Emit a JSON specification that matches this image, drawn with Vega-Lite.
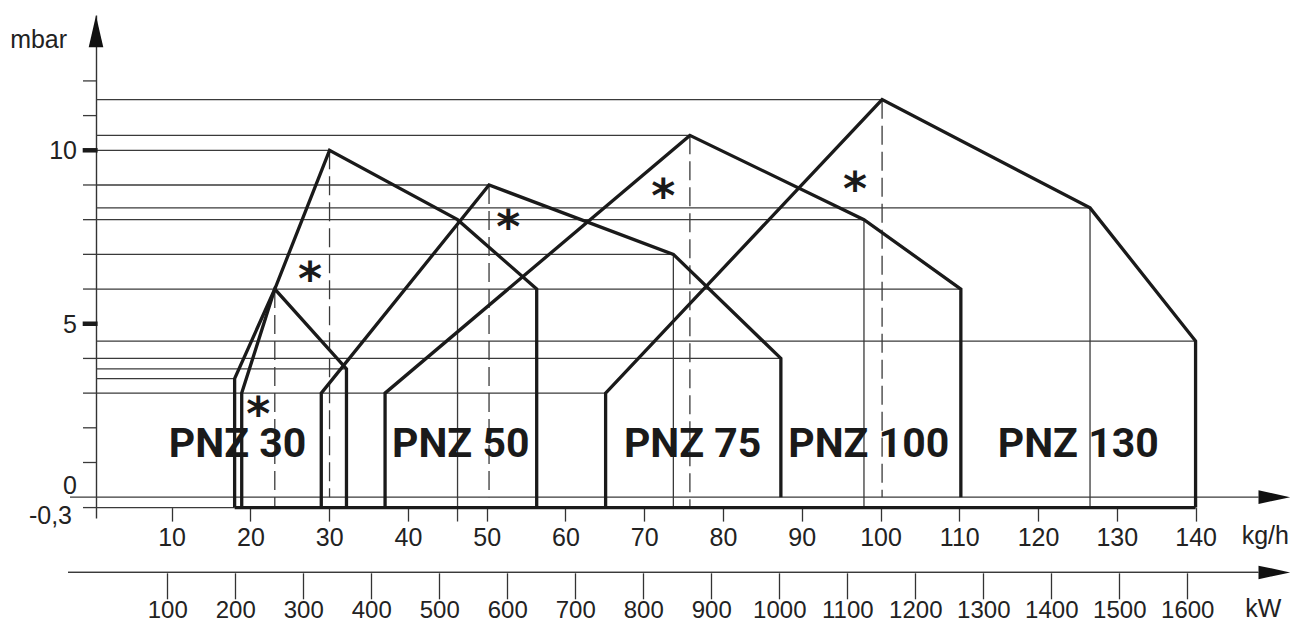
{
  "$schema": "https://vega.github.io/schema/vega-lite/v6.json",
  "width": 1194.1,
  "height": 503,
  "autosize": {"type": "none"},
  "padding": {"left": 96, "top": 15, "right": 8, "bottom": 105},
  "background": "white",
  "config": {"view": {"stroke": null}, "axis": {"grid": false}},
  "datasets": {
    "outlines": [
      {"id": "PNZ 30", "o": 1, "x": 18.9, "y": -0.3},
      {"id": "PNZ 30", "o": 2, "x": 18.9, "y": 3.0},
      {"id": "PNZ 30", "o": 3, "x": 23.1, "y": 6.0},
      {"id": "PNZ 30", "o": 4, "x": 32.2, "y": 3.7},
      {"id": "PNZ 30", "o": 5, "x": 32.2, "y": -0.3},
      {"id": "PNZ 50", "o": 1, "x": 18.0, "y": -0.3},
      {"id": "PNZ 50", "o": 2, "x": 18.0, "y": 3.42},
      {"id": "PNZ 50", "o": 3, "x": 23.1, "y": 6.0},
      {"id": "PNZ 50", "o": 4, "x": 30.05, "y": 10.0},
      {"id": "PNZ 50", "o": 5, "x": 46.3, "y": 8.0},
      {"id": "PNZ 50", "o": 6, "x": 56.35, "y": 6.0},
      {"id": "PNZ 50", "o": 7, "x": 56.35, "y": -0.3},
      {"id": "PNZ 75", "o": 1, "x": 29.0, "y": -0.3},
      {"id": "PNZ 75", "o": 2, "x": 29.0, "y": 3.0},
      {"id": "PNZ 75", "o": 3, "x": 50.3, "y": 9.0},
      {"id": "PNZ 75", "o": 4, "x": 73.7, "y": 7.0},
      {"id": "PNZ 75", "o": 5, "x": 87.35, "y": 4.0},
      {"id": "PNZ 75", "o": 6, "x": 87.35, "y": 0.0},
      {"id": "PNZ 100", "o": 1, "x": 37.1, "y": -0.3},
      {"id": "PNZ 100", "o": 2, "x": 37.1, "y": 3.0},
      {"id": "PNZ 100", "o": 3, "x": 75.8, "y": 10.43},
      {"id": "PNZ 100", "o": 4, "x": 97.9, "y": 8.0},
      {"id": "PNZ 100", "o": 5, "x": 110.2, "y": 6.0},
      {"id": "PNZ 100", "o": 6, "x": 110.2, "y": 0.0},
      {"id": "PNZ 130", "o": 1, "x": 65.1, "y": -0.3},
      {"id": "PNZ 130", "o": 2, "x": 65.1, "y": 3.0},
      {"id": "PNZ 130", "o": 3, "x": 100.2, "y": 11.46},
      {"id": "PNZ 130", "o": 4, "x": 126.6, "y": 8.34},
      {"id": "PNZ 130", "o": 5, "x": 140.0, "y": 4.5},
      {"id": "PNZ 130", "o": 6, "x": 140.0, "y": -0.3},
      {"id": "base", "o": 1, "x": 18.0, "y": -0.3},
      {"id": "base", "o": 2, "x": 140.0, "y": -0.3}
    ],
    "hlines": [
      {"x": 0.4, "x2": 100.2, "y": 11.46},
      {"x": 0.4, "x2": 75.8, "y": 10.43},
      {"x": 0.4, "x2": 30.05, "y": 10.0},
      {"x": 0.4, "x2": 50.3, "y": 9.0},
      {"x": 0.4, "x2": 126.6, "y": 8.34},
      {"x": 0.4, "x2": 97.9, "y": 8.0},
      {"x": 0.4, "x2": 73.7, "y": 7.0},
      {"x": 0.4, "x2": 110.2, "y": 6.0},
      {"x": 0.4, "x2": 140.0, "y": 4.5},
      {"x": 0.4, "x2": 87.35, "y": 4.0},
      {"x": 0.4, "x2": 32.2, "y": 3.7},
      {"x": 0.4, "x2": 18.0, "y": 3.42},
      {"x": 0.4, "x2": 65.1, "y": 3.0},
      {"x": -2.9, "x2": 148.0, "y": 0.0},
      {"x": 0.4, "x2": 18.0, "y": -0.3},
      {"x": -3.15, "x2": 148.0, "y": -2.17},
      {"x": -1.25, "x2": 0.4, "y": -0.3},
      {"x": -1.25, "x2": 0.4, "y": 1},
      {"x": -1.25, "x2": 0.4, "y": 2},
      {"x": -1.25, "x2": 0.4, "y": 3},
      {"x": -1.25, "x2": 0.4, "y": 4},
      {"x": -1.25, "x2": 0.4, "y": 6},
      {"x": -1.25, "x2": 0.4, "y": 7},
      {"x": -1.25, "x2": 0.4, "y": 8},
      {"x": -1.25, "x2": 0.4, "y": 9},
      {"x": -1.25, "x2": 0.4, "y": 11},
      {"x": -1.25, "x2": 0.4, "y": 12}
    ],
    "thickticks": [
      {"x": -1.29, "x2": 0.6, "y": 5},
      {"x": -1.29, "x2": 0.6, "y": 10}
    ],
    "vsolid": [
      {"x": 46.3, "y": 8.0, "y2": -0.7},
      {"x": 73.7, "y": 7.0, "y2": -0.3},
      {"x": 97.9, "y": 8.0, "y2": -0.3},
      {"x": 126.6, "y": 8.34, "y2": -0.3}
    ],
    "vdashed": [
      {"x": 23.1, "y": 6.0, "y2": -0.3},
      {"x": 30.05, "y": 10.0, "y2": 0.0},
      {"x": 50.3, "y": 9.0, "y2": 0.0},
      {"x": 75.8, "y": 10.43, "y2": -0.3},
      {"x": 100.2, "y": 11.46, "y2": 0.0}
    ],
    "arrows": [
      {"x": 150.0, "y": 0.0, "dir": "right"},
      {"x": 150.0, "y": -2.17, "dir": "right"},
      {"x": 0.4, "y": 13.43, "dir": "up"}
    ],
    "names": [
      {"x": 18.37, "y": 1.59, "name": "PNZ 30"},
      {"x": 46.7, "y": 1.59, "name": "PNZ 50"},
      {"x": 76.15, "y": 1.59, "name": "PNZ 75"},
      {"x": 98.5, "y": 1.59, "name": "PNZ 100"},
      {"x": 125.1, "y": 1.59, "name": "PNZ 130"}
    ],
    "stars": [
      {"x": 21.0, "y": 2.6, "t": "*"},
      {"x": 27.57, "y": 6.49, "t": "*"},
      {"x": 52.74, "y": 7.98, "t": "*"},
      {"x": 72.42, "y": 8.87, "t": "*"},
      {"x": 96.76, "y": 9.09, "t": "*"}
    ],
    "units": [
      {"x": -10.5, "y": 12.96, "t": "mbar"},
      {"x": 145.85, "y": -1.36, "t": "kg/h"},
      {"x": 146.3, "y": -3.45, "t": "kW"}
    ],
    "ylabels": [
      {"x": -2.01, "y": 10.0, "t": "10"},
      {"x": -2.01, "y": 5.0, "t": "5"},
      {"x": -2.01, "y": 0.343, "t": "0"},
      {"x": -2.65, "y": -0.52, "t": "-0,3"}
    ],
    "kwline": [
      {"kw": -46, "kw2": 1704, "y": -2.17}
    ]
  },
  "layer": [
    {
      "layer": [
        {
          "data": {"name": "hlines"},
          "mark": {"type": "rule", "color": "#3a3a3a", "strokeWidth": 1.3},
          "encoding": {
            "x": {"field": "x", "type": "quantitative", "title": null,
              "scale": {"domain": [0.4, 152], "nice": false, "zero": false},
              "axis": {"orient": "bottom", "offset": -10.4, "values": [10,20,30,40,50,60,70,80,90,100,110,120,130,140],
                "domain": false, "tickSize": 13.5, "tickWidth": 1.3, "tickColor": "#333",
                "labelFont": "Liberation Sans", "labelFontSize": 25, "labelColor": "#222",
                "labelPadding": 4, "labelFlush": false, "labelOverlap": false, "labelBound": false, "title": null}},
            "x2": {"field": "x2"},
            "y": {"field": "y", "type": "quantitative", "title": null,
              "scale": {"domain": [-0.6, 13.9], "nice": false, "zero": false},
              "axis": {"orient": "left", "values": [0, 5, 10],
                "domain": true, "domainColor": "#333", "domainWidth": 1.4,
                "ticks": false, "labels": false, "title": null}}
          }
        },
        {
          "data": {"name": "thickticks"},
          "mark": {"type": "rule", "color": "#1a1a1a", "strokeWidth": 4.5},
          "encoding": {
            "x": {"field": "x", "type": "quantitative", "title": null, "scale": {"domain": [0.4, 152], "nice": false, "zero": false}},
            "x2": {"field": "x2"},
            "y": {"field": "y", "type": "quantitative", "title": null, "scale": {"domain": [-0.6, 13.9], "nice": false, "zero": false}}
          }
        },
        {
          "data": {"name": "vsolid"},
          "mark": {"type": "rule", "color": "#3a3a3a", "strokeWidth": 1.3},
          "encoding": {
            "x": {"field": "x", "type": "quantitative", "title": null, "scale": {"domain": [0.4, 152], "nice": false, "zero": false}},
            "y": {"field": "y", "type": "quantitative", "title": null, "scale": {"domain": [-0.6, 13.9], "nice": false, "zero": false}},
            "y2": {"field": "y2"}
          }
        },
        {
          "data": {"name": "vdashed"},
          "mark": {"type": "rule", "color": "#3a3a3a", "strokeWidth": 1.3, "strokeDash": [19, 7]},
          "encoding": {
            "x": {"field": "x", "type": "quantitative", "title": null, "scale": {"domain": [0.4, 152], "nice": false, "zero": false}},
            "y": {"field": "y", "type": "quantitative", "title": null, "scale": {"domain": [-0.6, 13.9], "nice": false, "zero": false}},
            "y2": {"field": "y2"}
          }
        },
        {
          "data": {"name": "outlines"},
          "mark": {"type": "line", "color": "#1a1a1a", "strokeWidth": 3.3, "strokeJoin": "miter", "strokeCap": "butt"},
          "encoding": {
            "x": {"field": "x", "type": "quantitative", "title": null, "scale": {"domain": [0.4, 152], "nice": false, "zero": false}},
            "y": {"field": "y", "type": "quantitative", "title": null, "scale": {"domain": [-0.6, 13.9], "nice": false, "zero": false}},
            "detail": {"field": "id"},
            "order": {"field": "o"}
          }
        },
        {
          "data": {"name": "arrows"},
          "mark": {"type": "point", "filled": true, "color": "#111", "opacity": 1, "size": 1005},
          "encoding": {
            "x": {"field": "x", "type": "quantitative", "title": null, "scale": {"domain": [0.4, 152], "nice": false, "zero": false}},
            "y": {"field": "y", "type": "quantitative", "title": null, "scale": {"domain": [-0.6, 13.9], "nice": false, "zero": false}},
            "shape": {"field": "dir", "type": "nominal", "legend": null,
              "scale": {"domain": ["right", "up"], "range": ["M-1,-0.43L1,0L-1,0.43Z", "M-0.46,1L0,-1L0.46,1Z"]}}
          }
        },
        {
          "data": {"name": "names"},
          "mark": {"type": "text", "font": "Roboto", "fontWeight": "bold", "fontSize": 41, "align": "center", "baseline": "alphabetic", "dy": 14.6, "color": "#1a1a1a"},
          "encoding": {
            "x": {"field": "x", "type": "quantitative", "title": null, "scale": {"domain": [0.4, 152], "nice": false, "zero": false}},
            "y": {"field": "y", "type": "quantitative", "title": null, "scale": {"domain": [-0.6, 13.9], "nice": false, "zero": false}},
            "text": {"field": "name"}
          }
        },
        {
          "data": {"name": "stars"},
          "mark": {"type": "text", "font": "DejaVu Sans", "fontWeight": "bold", "fontSize": 46, "align": "center", "baseline": "alphabetic", "dy": 23, "color": "#1a1a1a"},
          "encoding": {
            "x": {"field": "x", "type": "quantitative", "title": null, "scale": {"domain": [0.4, 152], "nice": false, "zero": false}},
            "y": {"field": "y", "type": "quantitative", "title": null, "scale": {"domain": [-0.6, 13.9], "nice": false, "zero": false}},
            "text": {"field": "t"}
          }
        },
        {
          "data": {"name": "units"},
          "mark": {"type": "text", "font": "Liberation Sans", "fontSize": 25, "align": "left", "baseline": "alphabetic", "color": "#222"},
          "encoding": {
            "x": {"field": "x", "type": "quantitative", "title": null, "scale": {"domain": [0.4, 152], "nice": false, "zero": false}},
            "y": {"field": "y", "type": "quantitative", "title": null, "scale": {"domain": [-0.6, 13.9], "nice": false, "zero": false}},
            "text": {"field": "t"}
          }
        },
        {
          "data": {"name": "ylabels"},
          "mark": {"type": "text", "font": "Liberation Sans", "fontSize": 25, "align": "right", "baseline": "alphabetic", "dy": 9, "color": "#222"},
          "encoding": {
            "x": {"field": "x", "type": "quantitative", "title": null, "scale": {"domain": [0.4, 152], "nice": false, "zero": false}},
            "y": {"field": "y", "type": "quantitative", "title": null, "scale": {"domain": [-0.6, 13.9], "nice": false, "zero": false}},
            "text": {"field": "t"}
          }
        }
      ]
    },
    {
      "data": {"name": "kwline"},
      "mark": {"type": "rule", "color": "#3a3a3a", "strokeWidth": 1.3},
      "encoding": {
        "x": {"field": "kw", "type": "quantitative", "title": null,
          "scale": {"domain": [-4.85, 1751.2], "nice": false, "zero": false},
          "axis": {"orient": "bottom", "offset": 54.8, "values": [100,200,300,400,500,600,700,800,900,1000,1100,1200,1300,1400,1500,1600],
            "format": "d", "domain": false, "tickSize": 26, "tickWidth": 1.3, "tickColor": "#333",
            "labelFont": "Liberation Sans", "labelFontSize": 24, "labelColor": "#222",
            "labelPadding": 0, "labelFlush": false, "labelOverlap": false, "labelBound": false, "title": null}},
        "x2": {"field": "kw2"},
        "y": {"field": "y", "type": "quantitative", "title": null, "scale": {"domain": [-0.6, 13.9], "nice": false, "zero": false}}
      }
    }
  ],
  "resolve": {"scale": {"x": "independent"}, "axis": {"x": "independent"}}
}
